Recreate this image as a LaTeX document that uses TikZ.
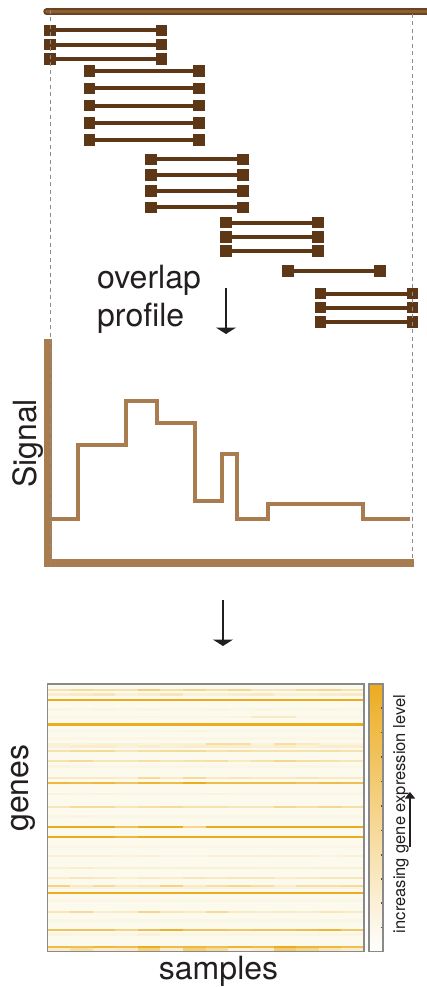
\documentclass[tikz,border=0pt]{standalone}
\usepackage{fontspec}
\setmainfont{TeX Gyre Heros}
\usetikzlibrary{arrows.meta}

\definecolor{ink}{HTML}{231F20}
\definecolor{readbrown}{HTML}{5E3816}
\definecolor{baredge}{HTML}{6A421F}
\definecolor{barfill}{HTML}{8E5E33}
\definecolor{sigbrown}{HTML}{A97C50}
\definecolor{guide}{HTML}{8C8C8C}
\definecolor{hmlo}{HTML}{FCF9ED}
\definecolor{hmhi}{HTML}{ECAC20}
\definecolor{framegrey}{HTML}{8A8A8A}
\definecolor{tickgrey}{HTML}{555555}

% one heatmap row: top, bottom, 14 intensities (percent of hmhi)
\newcommand\hmrow[3]{%
  \foreach \v [count=\c from 0] in {#3} {%
    \fill[hmhi!\v!hmlo] ({47.3+22.62*\c},#1) rectangle ({47.3+22.62*(\c+1)},#2);
  }%
}

\tikzset{
  readend/.style={rectangle, fill=readbrown, minimum size=11.5pt, inner sep=0pt, outer sep=0pt},
  readline/.style={readbrown, line width=4pt},
  guideline/.style={guide, line width=1.1pt, dash pattern=on 4pt off 3.5pt},
  axisline/.style={sigbrown, line width=8pt},
  profileline/.style={sigbrown, line width=4pt, line join=miter},
  flowarrow/.style={ink, line width=1.6pt, -{Triangle[width=20pt,length=6.5pt]}},
  cbarrow/.style={ink, line width=1.4pt, -{Triangle[width=10pt,length=6.5pt]}},
  bigtext/.style={text=ink, font=\fontsize{32}{38}\selectfont, inner sep=0pt},
  smalltext/.style={text=ink, font=\fontsize{16.5}{20}\selectfont, inner sep=0pt},
  tickmark/.style={tickgrey, line width=1.2pt},
}

\begin{document}
\begin{tikzpicture}[x=1pt, y=-1pt]
\useasboundingbox (0,0) rectangle (427,987);

% reference interval
\draw[baredge, line width=6.5pt, line cap=round] (46.5,11.7) -- (432,11.7);
\draw[barfill, line width=3.5pt, line cap=round] (46.5,11.7) -- (432,11.7);

% aligned reads
\foreach \xa/\xb/\yy [count=\k] in {
  50/161.5/30.3, 50/161.5/44.7, 50/161.5/59,
  89.3/199/71, 89.3/199/88.3, 89.3/199/105.6, 89.3/199/122.8, 89.3/199/140,
  151/243/159.3, 151/243/175, 151/243/191, 151/243/207.3,
  226/318/222.7, 226/318/237, 226/318/251,
  288/380/271,
  320.5/412.5/293.7, 320.5/412.5/307.7, 320.5/412.5/322} {
  \node[readend] (rl\k) at (\xa,\yy) {};
  \node[readend] (rr\k) at (\xb,\yy) {};
  \draw[readline] (rl\k) -- (rr\k);
}

% overlap label and arrow
\node[bigtext, anchor=base west] (ovl) at (97,288.3) {overlap};
\node[bigtext, anchor=base west] (prf) at (97,326.7) {profile};
\coordinate (a1s) at (226,288);
\coordinate (a1e) at (226,334);
\draw[flowarrow] (a1s) -- (a1e);

% signal profile
\coordinate (yaxtop) at (48,339.3);
\coordinate (yaxbot) at (48,567);
\coordinate (xaxl) at (44,563);
\coordinate (xaxr) at (414,563);
\draw[axisline] (yaxtop) -- (yaxbot);
\draw[axisline] (xaxl) -- (xaxr);
\draw[profileline] (50.7,519.3) -- (78,519.3) -- (78,445) -- (126,445) -- (126,401)
  -- (157,401) -- (157,423) -- (195,423) -- (195,500.7) -- (222,500.7) -- (222,454)
  -- (237,454) -- (237,519.3) -- (268,519.3) -- (268,504) -- (363,504) -- (363,519.3)
  -- (410,519.3);
\node[bigtext, rotate=90, anchor=base] (sig) at (36,443.5) {Signal};

% interval boundaries
\draw[guideline] (50.7,10) -- (50.7,566);
\draw[guideline] (412.7,14) -- (412.7,561);

% second arrow
\coordinate (a2s) at (223,600);
\coordinate (a2e) at (223,646);
\draw[flowarrow] (a2s) -- (a2e);

% heatmap
\fill[hmlo] (47.3,684) rectangle (364,951.7);
\hmrow{689}{691}{30,40,35,30,55,35,45,35,45,25,25,40,45,30}
\hmrow{693.3}{695.7}{15,20,25,10,15,25,10,12,15,20,10,12,15,20}
\hmrow{699}{701}{100,100,100,100,100,100,100,100,100,100,100,100,100,100}
\hmrow{708}{711}{5,4,6,4,5,3,4,6,3,5,3,4,5,3}
\hmrow{716}{717.5}{4,3,3,4,5,3,4,5,6,20,20,4,3,3}
\hmrow{723}{726}{100,100,100,100,100,100,100,100,100,100,100,100,100,100}
\hmrow{730}{732}{3,3,3,3,4,5,8,3,3,3,3,3,4,3}
\hmrow{737}{740}{4,4,4,4,4,4,4,4,4,4,4,4,4,4}
\hmrow{743}{745}{12,8,12,12,8,12,12,35,35,8,35,20,8,8}
\hmrow{745}{747.7}{10,15,15,10,15,12,15,15,15,12,15,12,15,15}
\hmrow{749.7}{751.7}{30,40,40,25,35,40,40,30,35,30,30,30,35,30}
\hmrow{759.7}{761.7}{30,40,25,25,35,25,30,35,20,30,45,35,30,25}
\hmrow{765}{768}{6,3,3,3,3,3,3,3,3,3,3,5,3,3}
\hmrow{776.7}{778.7}{20,20,20,15,40,20,40,20,25,20,20,25,20,20}
\hmrow{782}{784}{85,80,85,70,90,80,100,80,80,80,80,70,80,75}
\hmrow{793}{795}{8,5,8,5,5,5,5,8,5,5,5,5,5,5}
\hmrow{805.7}{808.3}{25,40,40,25,35,40,30,30,25,25,45,35,45,35}
\hmrow{815}{818}{4,6,4,3,3,3,3,3,3,4,3,3,3,3}
\hmrow{826}{828}{100,100,100,70,100,100,45,100,100,100,100,100,100,100}
\hmrow{835.7}{838}{100,100,100,85,100,100,100,100,100,100,100,100,100,100}
\hmrow{845}{848}{4,4,4,4,4,4,4,4,4,4,4,4,4,4}
\hmrow{855}{857}{10,10,10,8,10,5,5,10,10,12,10,10,5,10}
\hmrow{866.7}{869}{12,15,12,12,12,10,12,12,12,10,10,10,12,12}
\hmrow{876.7}{879.3}{15,25,20,12,20,15,25,20,25,25,15,20,25,25}
\hmrow{884.7}{886.7}{50,20,40,20,25,50,20,35,45,35,15,35,35,40}
\hmrow{886.7}{889.3}{8,10,8,8,10,8,12,8,8,10,8,8,8,8}
\hmrow{892}{894}{100,100,100,100,100,100,100,100,100,100,100,100,100,100}
\hmrow{899}{902}{4,4,4,4,4,4,4,4,4,4,4,4,4,4}
\hmrow{910.7}{913.3}{25,40,15,20,45,25,20,40,20,15,20,15,25,20}
\hmrow{919}{922}{3,3,3,3,3,3,3,3,3,3,3,3,3,3}
\hmrow{928.7}{930.7}{70,70,70,50,75,95,70,70,65,70,70,80,90,65}
\hmrow{933}{935.5}{8,5,5,5,10,5,5,5,5,5,5,5,5,5}
\hmrow{946}{947.7}{80,75,85,80,100,80,85,75,90,80,100,90,85,75}
\hmrow{947.7}{950.7}{15,35,15,20,50,15,55,40,10,15,60,45,25,15}
\draw[framegrey, line width=1.2pt] (47.3,684) rectangle (364,951.7);

% colour scale
\shade[bottom color=white, top color=hmhi] (369,684) rectangle (383,951.7);
\foreach \ty in {708,732.5,757,781.5,806,830.5,855,879,903,927.5}
  \draw[tickmark] (380.5,\ty) -- (383,\ty);
\draw[framegrey, line width=1.4pt] (369,684) rectangle (383,951.7);
\node[smalltext, rotate=90, anchor=base] (cbl) at (405,814) {increasing gene expression level};
\coordinate (a3s) at (410,847);
\coordinate (a3e) at (410,792);
\draw[cbarrow] (a3s) -- (a3e);

% axis labels
\node[bigtext, rotate=90, anchor=base] (gen) at (28,788) {genes};
\node[bigtext, anchor=base] (smp) at (218.5,979) {samples};
\end{tikzpicture}
\end{document}
